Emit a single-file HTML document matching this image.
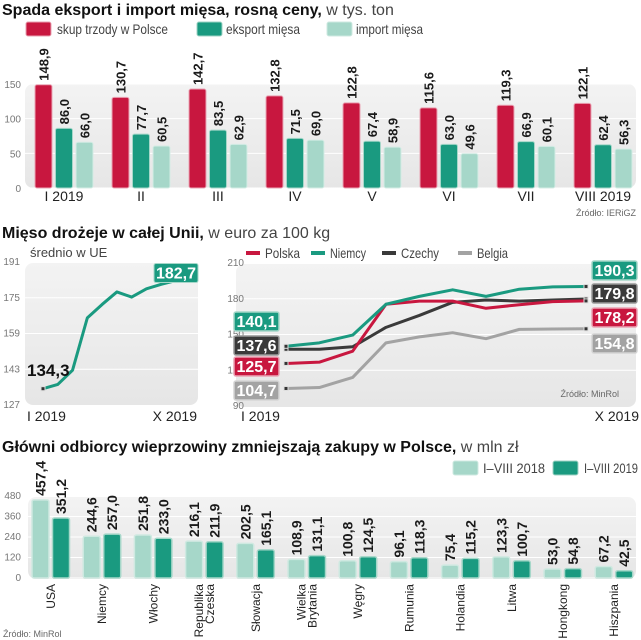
<!DOCTYPE html>
<html><head><meta charset="utf-8">
<style>
html,body{margin:0;padding:0;background:#fff;}
svg{display:block;font-family:"Liberation Sans Narrow","Liberation Sans",sans-serif;}
.ax{font-size:10px;fill:#777;}
.vl{font-size:13px;font-weight:bold;fill:#1a1a1a;}
.cat{font-size:14px;fill:#222;}
.lg{font-size:14px;fill:#444;}
</style></head>
<body>
<svg id="c" width="641" height="640" viewBox="0 0 641 640" xmlns="http://www.w3.org/2000/svg">
<defs>
<linearGradient id="pg" x1="0" y1="0" x2="0" y2="1"><stop offset="0" stop-color="#f3f3f3"/><stop offset="1" stop-color="#e6e6e6"/></linearGradient>
</defs>
<text x="2" y="15" style="font-size:16px;font-weight:bold;fill:#111">Spada eksport i import mięsa, rosną ceny,<tspan style="font-weight:normal;fill:#444"> w tys. ton</tspan></text>
<g>
<rect x="26" y="22" width="25" height="14" rx="2" fill="#c8173f" stroke="#e8a0b0"/>
<text x="57" y="34" class="lg" textLength="111" lengthAdjust="spacingAndGlyphs">skup trzody w Polsce</text>
<rect x="197" y="22" width="25" height="14" rx="2" fill="#1a9a80" stroke="#9fd3c4"/>
<text x="226" y="34" class="lg" textLength="74" lengthAdjust="spacingAndGlyphs">eksport mięsa</text>
<rect x="327" y="22" width="25" height="14" rx="2" fill="#a6d7c9" stroke="#cfe9e1"/>
<text x="356" y="34" class="lg" textLength="67" lengthAdjust="spacingAndGlyphs">import mięsa</text>
</g>
<rect x="25" y="84" width="611" height="104" rx="8" fill="url(#pg)"/>
<g id="c1"></g>
<text x="636" y="216" text-anchor="end" style="font-size:9px;fill:#666">Źródło: IERiGZ</text>

<text x="2" y="238" style="font-size:16px;font-weight:bold;fill:#111">Mięso drożeje w całej Unii,<tspan style="font-weight:normal;fill:#444"> w euro za 100 kg</tspan></text>
<text x="30" y="257" style="font-size:13px;fill:#444">średnio w UE</text>
<rect x="25" y="263" width="173" height="142" rx="8" fill="url(#pg)"/>
<g id="c2"></g>
<rect x="236" y="264" width="400" height="143" rx="8" fill="url(#pg)"/>
<g id="c3"></g>
<text x="619" y="397" text-anchor="end" style="font-size:9px;fill:#666">Źródło: MinRol</text>

<text x="2" y="452" style="font-size:16px;font-weight:bold;fill:#111">Główni odbiorcy wieprzowiny zmniejszają zakupy w Polsce,<tspan style="font-weight:normal;fill:#444"> w mln zł</tspan></text>
<g>
<rect x="453" y="461" width="25" height="14" rx="2" fill="#a6d7c9" stroke="#cfe9e1"/>
<text x="483" y="473" class="lg" textLength="62" lengthAdjust="spacingAndGlyphs">I–VIII 2018</text>
<rect x="553" y="461" width="25" height="14" rx="2" fill="#1a9a80" stroke="#9fd3c4"/>
<text x="584" y="473" class="lg" textLength="54" lengthAdjust="spacingAndGlyphs">I–VIII 2019</text>
</g>
<rect x="28" y="497" width="608" height="82" rx="8" fill="url(#pg)"/>
<g id="c4"></g>
<text x="3" y="637" style="font-size:9px;fill:#666">Źródło: MinRol</text>
</svg>
<script>
// ---- Chart 1 data
const c1Cats = ['I 2019','II','III','IV','V','VI','VII','VIII 2019'];
const c1Skup = [148.9,130.7,142.7,132.8,122.8,115.6,119.3,122.1];
const c1Eksport = [86.0,77.7,83.5,71.5,67.4,63.0,66.9,62.4];
const c1Import = [66.0,60.5,62.9,69.0,58.9,49.6,60.1,56.3];
const c1Ticks = [0,50,100,150];
// ---- Chart 2a data
const c2Values = [134.3,136.2,142.6,166,172,177.6,175.3,179,181,182.7];
const c2Ticks = [127,143,159,175,191];
const c2Labels = ['I 2019','X 2019'];
// ---- Chart 2b data
const c3Polska = [125.7,126.8,136,175.4,178,178,172,175,177.6,178.2];
const c3Niemcy = [140.1,143,149.5,175.4,182,187.5,182,188,190,190.3];
const c3Czechy = [137.6,137.6,139.7,156,166,177,179,178,179,179.8];
const c3Belgia = [104.7,105.5,114,143,148,151.5,146.5,154.3,154.6,154.8];
const c3Names = ['Polska','Niemcy','Czechy','Belgia'];
const c3Ticks = [90,120,150,180,210];
// ---- Chart 3 data
const c4Cats = ['USA','Niemcy','Włochy','Republika|Czeska','Słowacja','Wielka|Brytania','Węgry','Rumunia','Holandia','Litwa','Hongkong','Hiszpania'];
const c4Y2018 = [457.4,244.6,251.8,216.1,202.5,108.9,100.8,96.1,75.4,123.3,53.0,67.2];
const c4Y2019 = [351.2,257.0,233.0,211.9,165.1,131.1,124.5,118.3,115.2,100.7,54.8,42.5];
const c4Ticks = [0,120,240,360,480];

const NS='http://www.w3.org/2000/svg';
function mk(parent,tag,attrs,text){const e=document.createElementNS(NS,tag);for(const k in attrs)e.setAttribute(k,attrs[k]);if(text!==undefined)e.textContent=text;parent.appendChild(e);return e;}
const fmt=v=>v.toFixed(1).replace('.',',');

// Chart 1
(function(){
  const g=document.getElementById('c1');
  const y=v=>188-v*(104/150);
  const gx=i=>35+i*77;
  c1Ticks.forEach(t=>{
    const l=mk(g,'line',{x1:25,x2:636,y1:y(t),y2:y(t),stroke:'#fff','stroke-width':1});
    
    
    const tx=mk(g,'text',{x:21,y:y(t)+4,'text-anchor':'end',class:'ax'},String(t));
    
    
  });
  const series=[[c1Skup,'#c8173f','#eaa5b5','skup'],[c1Eksport,'#1a9a80','#a6d7c9','eksport'],[c1Import,'#a6d7c9','#d4ece5','import']];
  c1Cats.forEach((c,i)=>{
    series.forEach((s,j)=>{
      const v=s[0][i], x=gx(i)+j*20.5;
      const r=mk(g,'rect',{x:x,y:y(v),width:17,height:188-y(v),rx:2,fill:s[1],stroke:s[2],'stroke-width':1});
      
      
      const cx=x+8.5+5, cy=y(v)-4;
      const t=mk(g,'text',{x:cx,y:cy,transform:`rotate(-90 ${cx} ${cy})`,class:'vl'},fmt(v));
      
      
    });
    const t=mk(g,'text',{x:gx(i)+29,y:201,'text-anchor':'middle',class:'cat'},c);
    
    
  });
})();

// Chart 2a
(function(){
  const g=document.getElementById('c2');
  const y=v=>405-(v-127)*(143/64);
  const x=i=>43+i*(133/9);
  c2Ticks.forEach(t=>{
    if(t>127&&t<191){const l=mk(g,'line',{x1:25,x2:198,y1:y(t),y2:y(t),stroke:'#fff'});
    
    }
    const tx=mk(g,'text',{x:20,y:y(t)+3,'text-anchor':'end',class:'ax'},String(t));
    
    
  });
  const p=mk(g,'polyline',{points:c2Values.map((v,i)=>x(i)+','+y(v)).join(' '),fill:'none',stroke:'#1a9a80','stroke-width':3,'stroke-linejoin':'round'});
  
  
  [0,c2Values.length-1].forEach(i=>{
    const m=mk(g,'rect',{x:x(i)-2,y:y(c2Values[i])-2,width:4,height:4,fill:'#333',stroke:'#ddd'});
    
    
  });
  const s=mk(g,'text',{x:27,y:376,style:'font-size:17px;font-weight:bold;fill:#111'},fmt(c2Values[0]));
  
  
  const last=c2Values[c2Values.length-1];
  const b=mk(g,'rect',{x:154,y:y(last)-17,width:44,height:19,rx:2,fill:'#1a9a80',stroke:'#a6d7c9'});
  
  
  const e=mk(g,'text',{x:176,y:y(last)-2,'text-anchor':'middle',style:'font-size:16px;font-weight:bold;fill:#fff'},fmt(last));
  
  
  const l1=mk(g,'text',{x:27,y:421,class:'cat'},c2Labels[0]);
  
  
  const l2=mk(g,'text',{x:197,y:421,'text-anchor':'end',class:'cat'},c2Labels[1]);
  
  
})();

// Chart 2b
(function(){
  const g=document.getElementById('c3');
  const y=v=>406-(v-90)*(143/120);
  const x=i=>286+i*(300/9);
  c3Ticks.forEach(t=>{
    if(t>90&&t<210){const l=mk(g,'line',{x1:236,x2:636,y1:y(t),y2:y(t),stroke:'#fff'});
    
    }
    const tx=mk(g,'text',{x:244,y:y(t)+3,'text-anchor':'end',class:'ax'},String(t));
    
    
  });
  const data=[c3Belgia,c3Czechy,c3Polska,c3Niemcy];
  const names=['Belgia','Czechy','Polska','Niemcy'];
  const cols={Polska:'#c8173f',Niemcy:'#1a9a80',Czechy:'#3a3a3a',Belgia:'#a3a3a3'};
  const strokes={Polska:'#eaa5b5',Niemcy:'#a6d7c9',Czechy:'#999',Belgia:'#d5d5d5'};
  data.forEach((d,k)=>{
    const n=names[k];
    const p=mk(g,'polyline',{points:d.map((v,i)=>x(i)+','+y(v)).join(' '),fill:'none',stroke:cols[n],'stroke-width':3,'stroke-linejoin':'round'});
    
    
    [0,d.length-1].forEach(i=>{
      const m=mk(g,'rect',{x:x(i)-2,y:y(d[i])-2,width:4,height:4,fill:'#333',stroke:'#ddd'});
      
      
    });
  });
  const leftSlots={Niemcy:312,Czechy:336,Polska:357,Belgia:381};
  const rightSlots={Niemcy:261,Czechy:284,Polska:308,Belgia:334};
  c3Names.forEach((n,k)=>{
    const d=[c3Polska,c3Niemcy,c3Czechy,c3Belgia][k];
    [[234,leftSlots[n],d[0],'start'],[592,rightSlots[n],d[d.length-1],'end']].forEach(q=>{
      const b=mk(g,'rect',{x:q[0],y:q[1],width:45,height:19,rx:2,fill:cols[n],stroke:strokes[n],'stroke-width':1.5});
      
      
      const t=mk(g,'text',{x:q[0]+22.5,y:q[1]+15,'text-anchor':'middle',style:'font-size:16px;font-weight:bold;fill:#fff'},fmt(q[2]));
      
      
    });
  });
  const lx=[246,311,382,458];
  const lw=[35,36,38,31];
  c3Names.forEach((n,k)=>{
    const l=mk(g,'line',{x1:lx[k],x2:lx[k]+14,y1:253,y2:253,stroke:cols[n],'stroke-width':4});
    
    
    const t=mk(g,'text',{x:lx[k]+19,y:258,class:'lg',textLength:lw[k],lengthAdjust:'spacingAndGlyphs'},n);
    
    
  });
  const l1=mk(g,'text',{x:241,y:421,class:'cat'},'I 2019');
  
  
  const l2=mk(g,'text',{x:639,y:421,'text-anchor':'end',class:'cat'},'X 2019');
  
  
})();

// Chart 3
(function(){
  const g=document.getElementById('c4');
  const y=v=>578-v*(82/480);
  const gx=i=>32+i*51.2;
  c4Ticks.forEach(t=>{
    const l=mk(g,'line',{x1:28,x2:636,y1:y(t),y2:y(t),stroke:'#fff'});
    
    
    const tx=mk(g,'text',{x:21,y:y(t)+3,'text-anchor':'end',class:'ax'},String(t));
    
    
  });
  const ser=[[c4Y2018,'#a6d7c9','#cfe9e1','2018'],[c4Y2019,'#1a9a80','#a6d7c9','2019']];
  c4Cats.forEach((c,i)=>{
    ser.forEach((s,j)=>{
      const v=s[0][i], x=gx(i)+j*20.5;
      const r=mk(g,'rect',{x:x,y:y(v),width:17,height:578-y(v),rx:2,fill:s[1],stroke:s[2],'stroke-width':1.5});
      
      
      const cx=x+8.5+5, cy=y(v)-4;
      const t=mk(g,'text',{x:cx,y:cy,transform:`rotate(-90 ${cx} ${cy})`,class:'vl',style:'font-size:14px'},fmt(v));
      
      
    });
    const parts=c.split('|');
    parts.forEach((p,k)=>{
      const cx=gx(i)+18+5+(k-(parts.length-1)/2)*11, cy=584;
      const t=mk(g,'text',{x:cx,y:cy,transform:`rotate(-90 ${cx} ${cy})`,'text-anchor':'end',class:'cat',style:'font-size:12px'},p);
      
      
    });
  });
})();
</script>
</body></html>
